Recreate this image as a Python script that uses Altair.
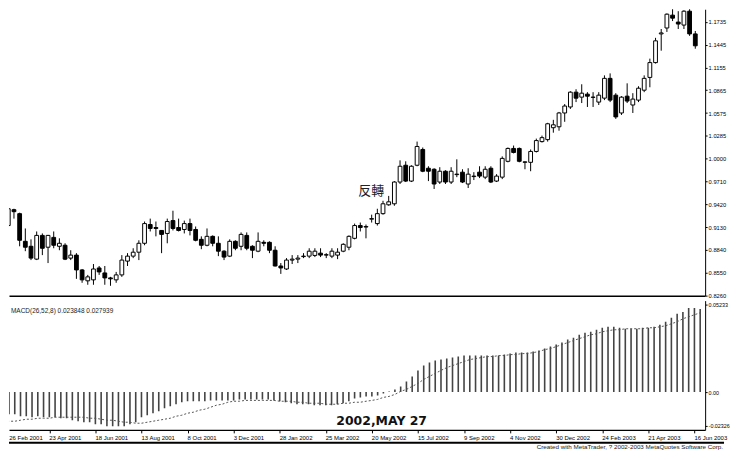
import altair as alt
import pandas as pd

# Weekly EUR/USD candles, index 0 = week of 26 Feb 2001
opens = [0.9149, 0.9350, 0.9300, 0.8949, 0.8886, 0.8723, 0.9024, 0.8874, 0.8999, 0.8886,
         0.8899, 0.8736, 0.8774, 0.8586, 0.8448, 0.8460, 0.8611, 0.8548, 0.8485, 0.8460,
         0.8523, 0.8698, 0.8761, 0.8811, 0.8924, 0.9162, 0.9124, 0.9087, 0.9049, 0.9212,
         0.9124, 0.9099, 0.9174, 0.9099, 0.8974, 0.8899, 0.9012, 0.8924, 0.8824, 0.8761,
         0.8949, 0.8886, 0.9024, 0.8886, 0.8824, 0.8936, 0.8936, 0.8836, 0.8636, 0.8598,
         0.8711, 0.8723, 0.8755, 0.8761, 0.8770, 0.8799, 0.8774, 0.8761, 0.8774, 0.8824,
         0.8874, 0.8987, 0.9149, 0.9130, 0.9230, 0.9174, 0.9300, 0.9412, 0.9425, 0.9701,
         0.9914, 0.9713, 0.9914, 1.0114, 0.9876, 0.9863, 0.9701, 0.9838, 0.9701, 0.9795,
         0.9826, 0.9676, 0.9770, 0.9826, 0.9763, 0.9876, 0.9713, 0.9763, 0.9964, 1.0127,
         1.0127, 0.9951, 0.9951, 1.0089, 1.0214, 1.0239, 1.0390, 1.0402, 1.0577, 1.0653,
         1.0841, 1.0778, 1.0816, 1.0775, 1.0715, 1.0765, 1.1016, 1.0803, 1.0577, 1.0790,
         1.0678, 1.0740, 1.0866, 1.1028, 1.1216, 1.1580, 1.1655, 1.1818, 1.1730, 1.1692,
         1.1868, 1.1580]
highs = [0.9387, 0.9362, 0.9312, 0.9112, 0.8974, 0.9074, 0.9049, 0.9030, 0.9074, 0.8987,
         0.8924, 0.8836, 0.8799, 0.8598, 0.8523, 0.8661, 0.8636, 0.8636, 0.8498, 0.8561,
         0.8774, 0.8799, 0.8861, 0.8962, 0.9200, 0.9237, 0.9200, 0.9090, 0.9237, 0.9337,
         0.9237, 0.9212, 0.9237, 0.9137, 0.9012, 0.9112, 0.9024, 0.9012, 0.8836, 0.8974,
         0.8962, 0.9062, 0.9062, 0.8899, 0.9062, 0.8962, 0.8949, 0.8886, 0.8673, 0.8736,
         0.8774, 0.8774, 0.8799, 0.8861, 0.8861, 0.8861, 0.8799, 0.8861, 0.8861, 0.8924,
         0.9024, 0.9174, 0.9187, 0.9162, 0.9287, 0.9362, 0.9463, 0.9525, 0.9713, 0.9976,
         0.9964, 0.9914, 1.0214, 1.0139, 0.9901, 0.9876, 0.9889, 0.9851, 0.9889, 0.9989,
         0.9863, 0.9876, 0.9826, 0.9901, 0.9901, 0.9901, 0.9801, 1.0026, 1.0139, 1.0164,
         1.0139, 0.9964, 1.0114, 1.0252, 1.0290, 1.0452, 1.0490, 1.0590, 1.0690, 1.0853,
         1.0878, 1.0941, 1.0841, 1.0841, 1.0841, 1.1054, 1.1079, 1.0828, 1.0790, 1.0953,
         1.0828, 1.0916, 1.1054, 1.1266, 1.1530, 1.1642, 1.1840, 1.1930, 1.1868, 1.1880,
         1.1930, 1.1617]
lows = [0.9112, 0.9237, 0.8886, 0.8824, 0.8711, 0.8711, 0.8774, 0.8673, 0.8861, 0.8836,
        0.8711, 0.8711, 0.8473, 0.8423, 0.8398, 0.8398, 0.8523, 0.8398, 0.8385, 0.8423,
        0.8498, 0.8636, 0.8736, 0.8711, 0.8899, 0.9074, 0.9012, 0.8799, 0.8924, 0.9087,
        0.9074, 0.9049, 0.9024, 0.8949, 0.8849, 0.8886, 0.8886, 0.8761, 0.8711, 0.8749,
        0.8836, 0.8836, 0.8836, 0.8736, 0.8811, 0.8886, 0.8799, 0.8630, 0.8536, 0.8586,
        0.8661, 0.8673, 0.8736, 0.8736, 0.8749, 0.8749, 0.8736, 0.8736, 0.8723, 0.8811,
        0.8836, 0.8974, 0.9074, 0.8987, 0.9187, 0.9149, 0.9287, 0.9400, 0.9400, 0.9676,
        0.9701, 0.9701, 0.9901, 0.9826, 0.9713, 0.9613, 0.9676, 0.9676, 0.9676, 0.9763,
        0.9688, 0.9625, 0.9726, 0.9751, 0.9738, 0.9688, 0.9701, 0.9738, 0.9951, 1.0064,
        0.9951, 0.9863, 0.9838, 1.0076, 1.0202, 1.0214, 1.0327, 1.0352, 1.0465, 1.0628,
        1.0715, 1.0703, 1.0653, 1.0653, 1.0678, 1.0740, 1.0715, 1.0502, 1.0552, 1.0703,
        1.0577, 1.0715, 1.0841, 1.0903, 1.1204, 1.1367, 1.1605, 1.1743, 1.1642, 1.1642,
        1.1555, 1.1392]
closes = [0.9362, 0.9325, 0.8962, 0.8874, 0.8736, 0.9024, 0.8861, 0.9024, 0.8899, 0.8924,
          0.8723, 0.8774, 0.8586, 0.8460, 0.8498, 0.8598, 0.8561, 0.8485, 0.8473, 0.8523,
          0.8711, 0.8761, 0.8811, 0.8924, 0.9174, 0.9112, 0.9112, 0.9037, 0.9200, 0.9112,
          0.9087, 0.9174, 0.9087, 0.8962, 0.8899, 0.9012, 0.8924, 0.8824, 0.8749, 0.8949,
          0.8861, 0.9037, 0.8861, 0.8836, 0.8949, 0.8924, 0.8836, 0.8636, 0.8611, 0.8711,
          0.8723, 0.8736, 0.8761, 0.8824, 0.8824, 0.8774, 0.8780, 0.8824, 0.8811, 0.8911,
          0.9012, 0.9149, 0.9124, 0.9137, 0.9237, 0.9300, 0.9425, 0.9450, 0.9701, 0.9901,
          0.9713, 0.9901, 1.0152, 0.9838, 0.9838, 0.9676, 0.9838, 0.9701, 0.9838, 0.9801,
          0.9701, 0.9801, 0.9776, 0.9776, 0.9863, 0.9701, 0.9776, 1.0001, 1.0127, 1.0076,
          0.9964, 0.9957, 1.0089, 1.0227, 1.0264, 1.0440, 1.0427, 1.0577, 1.0665, 1.0841,
          1.0765, 1.0828, 1.0790, 1.0778, 1.0803, 1.1016, 1.0740, 1.0527, 1.0778, 1.0728,
          1.0753, 1.0891, 1.1016, 1.1216, 1.1492, 1.1592, 1.1830, 1.1780, 1.1705, 1.1868,
          1.1580, 1.1429]

macd_main = [-0.0145, -0.0133, -0.0133, -0.0145, -0.0145, -0.0151, -0.0145, -0.0151, -0.0151, -0.0151,
             -0.0157, -0.0157, -0.0169, -0.0175, -0.0181, -0.0181, -0.0193, -0.0193, -0.0205, -0.0205,
             -0.0205, -0.0205, -0.0193, -0.0181, -0.0151, -0.0139, -0.0127, -0.0115, -0.0097, -0.0085,
             -0.0073, -0.0061, -0.0055, -0.0055, -0.0055, -0.0055, -0.0050, -0.0050, -0.0050, -0.0050,
             -0.0050, -0.0044, -0.0044, -0.0044, -0.0044, -0.0044, -0.0044, -0.0050, -0.0055, -0.0061,
             -0.0067, -0.0073, -0.0073, -0.0073, -0.0079, -0.0079, -0.0079, -0.0079, -0.0073, -0.0067,
             -0.0055, -0.0038, -0.0032, -0.0026, -0.0026, -0.0020, -0.0008, 0.0004, 0.0016, 0.0034,
             0.0064, 0.0094, 0.0130, 0.0159, 0.0177, 0.0189, 0.0195, 0.0201, 0.0207, 0.0213,
             0.0219, 0.0219, 0.0219, 0.0219, 0.0219, 0.0219, 0.0219, 0.0225, 0.0231, 0.0237,
             0.0237, 0.0237, 0.0243, 0.0249, 0.0261, 0.0273, 0.0285, 0.0297, 0.0315, 0.0326,
             0.0344, 0.0356, 0.0362, 0.0374, 0.0386, 0.0392, 0.0392, 0.0386, 0.0380, 0.0380,
             0.0380, 0.0386, 0.0386, 0.0392, 0.0404, 0.0422, 0.0446, 0.0470, 0.0481, 0.0505,
             0.0505, 0.0499]
macd_signal = [-0.0181, -0.0175, -0.0175, -0.0169, -0.0163, -0.0163, -0.0157, -0.0157, -0.0157, -0.0151,
               -0.0151, -0.0151, -0.0151, -0.0151, -0.0151, -0.0157, -0.0157, -0.0163, -0.0169, -0.0169,
               -0.0175, -0.0181, -0.0181, -0.0187, -0.0187, -0.0181, -0.0175, -0.0169, -0.0163, -0.0157,
               -0.0145, -0.0139, -0.0127, -0.0121, -0.0109, -0.0103, -0.0091, -0.0079, -0.0073, -0.0061,
               -0.0055, -0.0055, -0.0050, -0.0050, -0.0050, -0.0050, -0.0050, -0.0050, -0.0055, -0.0055,
               -0.0055, -0.0061, -0.0061, -0.0067, -0.0067, -0.0067, -0.0073, -0.0073, -0.0073, -0.0067,
               -0.0067, -0.0061, -0.0061, -0.0055, -0.0050, -0.0044, -0.0032, -0.0026, -0.0014, 0.0004,
               0.0016, 0.0034, 0.0052, 0.0076, 0.0094, 0.0112, 0.0130, 0.0147, 0.0159, 0.0171,
               0.0183, 0.0195, 0.0201, 0.0207, 0.0213, 0.0213, 0.0219, 0.0219, 0.0225, 0.0225,
               0.0231, 0.0231, 0.0237, 0.0243, 0.0255, 0.0261, 0.0273, 0.0285, 0.0297, 0.0309,
               0.0321, 0.0332, 0.0344, 0.0350, 0.0362, 0.0368, 0.0374, 0.0374, 0.0380, 0.0380,
               0.0380, 0.0380, 0.0386, 0.0386, 0.0392, 0.0398, 0.0410, 0.0422, 0.0440, 0.0452,
               0.0464, 0.0476]

date_tick_weeks = [0, 8, 16, 24, 32, 40, 48, 56, 64, 72, 80, 88, 96, 104, 112, 120]
date_tick_labels = ["26 Feb 2001", "23 Apr 2001", "18 Jun 2001", "13 Aug 2001", "8 Oct 2001",
                    "3 Dec 2001", "28 Jan 2002", "25 Mar 2002", "20 May 2002", "15 Jul 2002",
                    "9 Sep 2002", "4 Nov 2002", "30 Dec 2002", "24 Feb 2003", "21 Apr 2003",
                    "16 Jun 2003"]
price_ticks = [0.8260, 0.8550, 0.8840, 0.9130, 0.9420, 0.9710, 1.0000, 1.0285, 1.0575,
               1.0865, 1.1155, 1.1445, 1.1735]
macd_ticks = [0.05233, 0.0, -0.0203]

# annotations: (week index, level, text)
price_note = {"idx": [63.93], "p": [0.9582], "t": ["反轉"]}
macd_note = {"idx": [65.7], "v": [-0.0172], "t": ["2002,MAY 27"]}

n = len(opens)
price_df = pd.DataFrame({"idx": list(range(n)), "o": opens, "h": highs, "l": lows, "c": closes})
macd_df = pd.DataFrame({"idx": list(range(n)), "m": macd_main, "s": macd_signal})
labels_df = pd.DataFrame({"idx": date_tick_weeks, "lab": date_tick_labels})

W = 700
xs = alt.Scale(domain=[1.0, 121.86], nice=False, zero=False)
ys = alt.Scale(domain=[0.826, 1.1893], nice=False, zero=False)
ms = alt.Scale(domain=[-0.0227, 0.0549], nice=False, zero=False)

px_axis = alt.Axis(labels=False, ticks=False, title=None, grid=False, domain=True,
                   domainColor="black", domainWidth=1.5)
py_axis = alt.Axis(orient="right", values=price_ticks, format=".4f", title=None, grid=False,
                   domainColor="black", tickColor="black", tickSize=2, labelFontSize=5.8,
                   labelFont="Liberation Sans", labelColor="black", labelPadding=1,
                   labelOverlap=False)
mx_axis = alt.Axis(values=date_tick_weeks, labels=False, ticks=True, tickSize=3,
                   tickColor="black", domainColor="black", domainWidth=1.2, title=None, grid=False)
my_axis = alt.Axis(orient="right", values=macd_ticks, title=None, grid=False,
                   domainColor="black", tickColor="black", tickSize=2, labelFontSize=5.4,
                   labelFont="Liberation Sans", labelColor="black", labelPadding=1,
                   labelOverlap=False,
                   labelExpr="datum.value > 0.04 ? '0.05233' : (datum.value < -0.01 ? '-0.02326' : '0.00')")

# ---- price panel ----
pbase = alt.Chart(price_df).encode(x=alt.X("idx:Q", scale=xs, axis=px_axis))
wicks = pbase.mark_rule(color="black", strokeWidth=1, clip=True).encode(
    y=alt.Y("l:Q", scale=ys, axis=py_axis), y2="h:Q")
bodies = pbase.mark_bar(size=3.8, stroke="black", strokeWidth=1, clip=True).encode(
    y=alt.Y("o:Q", scale=ys, axis=py_axis), y2="c:Q",
    fill=alt.condition("datum.c >= datum.o", alt.value("white"), alt.value("black")))
pnote = alt.Chart(pd.DataFrame(price_note)).mark_text(
    font="Noto Sans CJK TC", fontSize=13, color="#222", align="center", baseline="middle").encode(
    x=alt.X("idx:Q", scale=xs, axis=px_axis), y=alt.Y("p:Q", scale=ys, axis=py_axis), text="t:N")
price = alt.layer(wicks, bodies, pnote).properties(width=W, height=288)

# ---- MACD panel ----
mbase = alt.Chart(macd_df).encode(x=alt.X("idx:Q", scale=xs, axis=mx_axis))
bars = mbase.mark_rule(color="#444", strokeWidth=1.6, clip=True).encode(
    y=alt.Y("m:Q", scale=ms, axis=my_axis), y2=alt.datum(0))
sig = mbase.mark_line(color="#555", strokeDash=[2, 2], strokeWidth=1, clip=True).encode(
    y=alt.Y("s:Q", scale=ms, axis=my_axis))
mnote = alt.Chart(pd.DataFrame(macd_note)).mark_text(
    font="DejaVu Sans", fontWeight="bold", fontSize=12.5, color="#111",
    align="center", baseline="middle").encode(
    x=alt.X("idx:Q", scale=xs, axis=mx_axis), y=alt.Y("v:Q", scale=ms, axis=my_axis), text="t:N")
dlabels = alt.Chart(labels_df).transform_calculate(
    xpos="max(datum.idx, 1.05)").mark_text(
    font="Liberation Sans", fontSize=6.0, color="black", align="left", baseline="middle").encode(
    x=alt.X("xpos:Q", scale=xs, axis=mx_axis), y=alt.value(138), text="lab:N")
one = pd.DataFrame({"k": [0]})
header = alt.Chart(one).mark_text(
    font="Liberation Sans", fontSize=6.5, color="#222", align="left", baseline="middle",
    text="MACD(26,52,8)  0.023848  0.027939").encode(x=alt.value(2), y=alt.value(10))
fline = alt.Chart(one).mark_rule(color="black", strokeWidth=2).encode(
    x=alt.value(0), x2=alt.value(719), y=alt.value(143))
footer = alt.Chart(one).mark_text(
    font="Liberation Sans", fontSize=6.3, color="#222", align="right", baseline="middle",
    text="Created with MetaTrader, ? 2002-2003 MetaQuotes Software Corp.").encode(
    x=alt.value(718), y=alt.value(147.5))
macd = alt.layer(bars, sig, mnote, dlabels, header, fline, footer).properties(width=W, height=130)

chart = alt.vconcat(price, macd, spacing=2).resolve_scale(y="independent").properties(
    padding=0, background="white").configure_view(stroke=None)

chart.save("out.html", embed_options={"renderer": "svg", "actions": False})
